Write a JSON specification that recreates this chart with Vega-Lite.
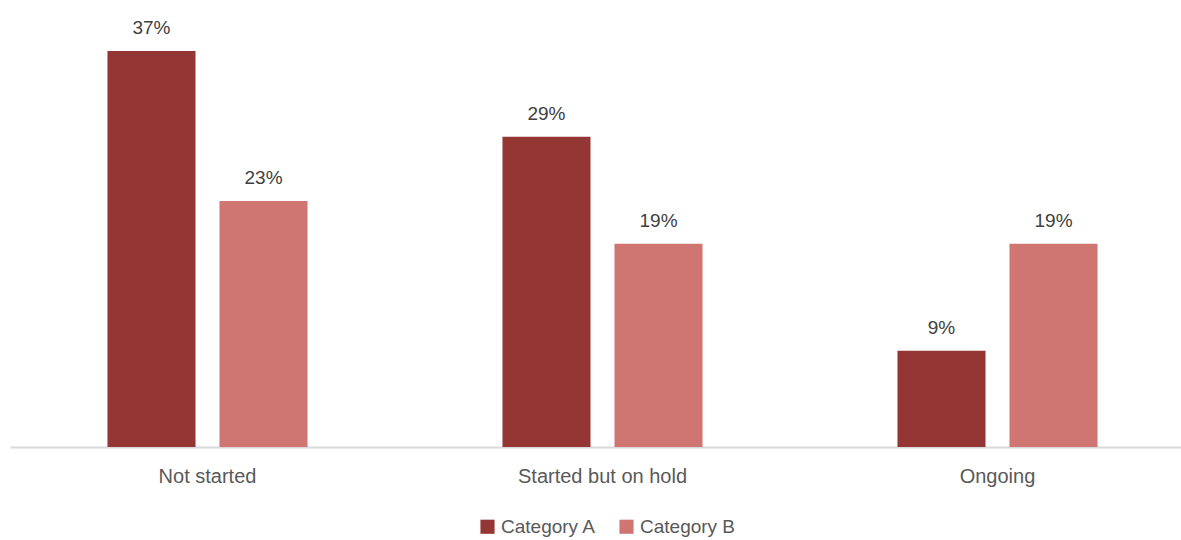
{
  "$schema": "https://vega.github.io/schema/vega-lite/v6.json",
  "width": 1185,
  "height": 428,
  "autosize": "none",
  "padding": {"left": 10, "top": 19, "right": 0, "bottom": 93},
  "background": "white",
  "config": {
    "view": {"stroke": null},
    "font": "Liberation Sans"
  },
  "data": {
    "values": [
      {"status": "Not started", "category": "Category A", "value": 0.37},
      {"status": "Not started", "category": "Category B", "value": 0.23},
      {"status": "Started but on hold", "category": "Category A", "value": 0.29},
      {"status": "Started but on hold", "category": "Category B", "value": 0.19},
      {"status": "Ongoing", "category": "Category A", "value": 0.09},
      {"status": "Ongoing", "category": "Category B", "value": 0.19}
    ]
  },
  "encoding": {
    "x": {
      "field": "status",
      "type": "nominal",
      "sort": ["Not started", "Started but on hold", "Ongoing"],
      "scale": {"paddingInner": 0, "paddingOuter": 0},
      "axis": {
        "title": null,
        "labelAngle": 0,
        "ticks": false,
        "domainColor": "#D9D9D9",
        "domainWidth": 2,
        "labelFont": "Liberation Sans",
        "labelFontSize": 20,
        "labelLimit": 0,
        "labelColor": "#595959",
        "labelPadding": 19
      }
    },
    "xOffset": {
      "field": "category",
      "type": "nominal",
      "scale": {"paddingInner": 0.214, "paddingOuter": 0.87}
    },
    "y": {
      "field": "value",
      "type": "quantitative",
      "scale": {"domain": [0, 0.4]},
      "axis": null
    }
  },
  "layer": [
    {
      "mark": {"type": "bar"},
      "encoding": {
        "color": {
          "field": "category",
          "type": "nominal",
          "scale": {"domain": ["Category A", "Category B"], "range": ["#943634", "#CF7673"]},
          "legend": {
            "title": null,
            "orient": "none",
            "direction": "horizontal",
            "legendX": 468,
            "legendY": 498,
            "symbolType": "square",
            "symbolSize": 200,
            "symbolStrokeWidth": 0,
            "labelFont": "Liberation Sans",
            "labelFontSize": 19,
            "labelColor": "#595959",
            "columnPadding": 20,
            "labelOffset": 4
          }
        }
      }
    },
    {
      "mark": {"type": "text", "baseline": "bottom", "dy": -13, "fontSize": 19, "color": "#404040", "font": "Liberation Sans"},
      "encoding": {
        "text": {"field": "value", "type": "quantitative", "format": ".0%"},
        "detail": {"field": "category"}
      }
    }
  ]
}
